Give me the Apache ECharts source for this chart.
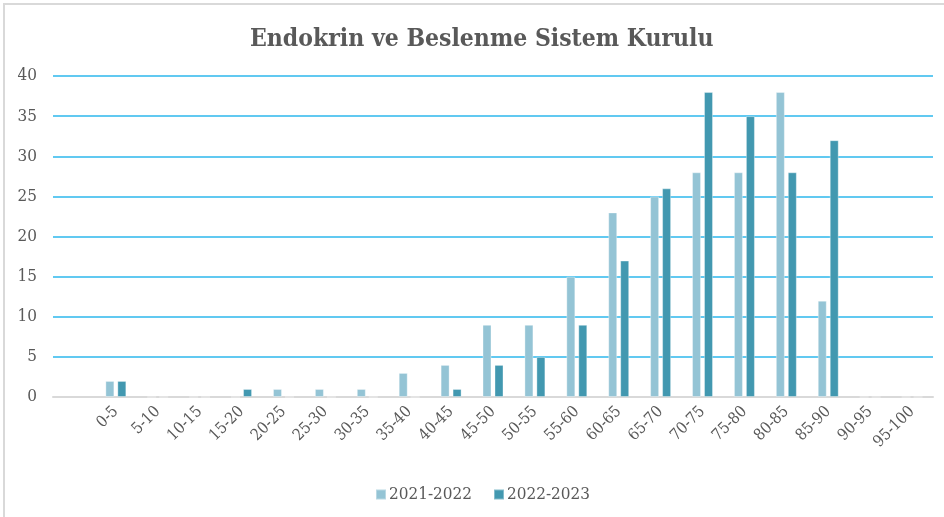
<!DOCTYPE html>
<html>
<head>
<meta charset="utf-8">
<script src="https://cdn.jsdelivr.net/npm/echarts@6/dist/echarts.min.js"></script>
<style>
  html, body { margin: 0; padding: 0; background: #fff; }
  #chart { width: 944px; height: 517px; }
</style>
</head>
<body>
<div id="chart"></div>
<script>
// Score bands (the leading blank slot leaves room before the first band)
const categories = ['', '0-5', '5-10', '10-15', '15-20', '20-25', '25-30', '30-35', '35-40', '40-45',
  '45-50', '50-55', '55-60', '60-65', '65-70', '70-75', '75-80', '80-85', '85-90', '90-95', '95-100'];
const seriesNames = ['2021-2022', '2022-2023'];
const values2021 = [null, 2, 0, 0, 0, 1, 1, 1, 3, 4, 9, 9, 15, 23, 25, 28, 28, 38, 12, 0, 0];
const values2022 = [null, 2, 0, 0, 1, 0, 0, 0, 0, 1, 4, 5, 9, 17, 26, 38, 35, 28, 32, 0, 0];
const yTicks = { min: 0, max: 40, interval: 5 };

const serif = '"DejaVu Serif Condensed", "Liberation Serif", serif';
const textGray = '#595959';

const chart = echarts.init(document.getElementById('chart'), null, { renderer: 'canvas' });
chart.setOption({
  animation: false,
  backgroundColor: '#fff',
  title: {
    text: 'Endokrin ve Beslenme Sistem Kurulu',
    left: 245,
    top: 22,
    textStyle: { fontFamily: serif, fontWeight: 'bold', fontSize: 24.5, color: textGray }
  },
  graphic: [{
    type: 'rect',
    shape: { x: 4, y: 4, width: 960, height: 540 },
    style: { fill: 'none', stroke: '#d9d9d9', lineWidth: 2 },
    silent: true
  }],
  legend: {
    data: seriesNames,
    left: 370,
    top: 481,
    itemWidth: 10,
    itemHeight: 10,
    itemGap: 21,
    icon: 'rect',
    textStyle: { fontFamily: serif, fontSize: 17, color: textGray, padding: [0, 0, 0, -2] }
  },
  grid: { left: 53, right: 11, top: 76, bottom: 120, containLabel: false },
  xAxis: {
    type: 'category',
    data: categories,
    axisLine: { lineStyle: { color: '#d9d9d9', width: 2 } },
    axisTick: { show: false },
    axisLabel: {
      rotate: 45,
      interval: 0,
      margin: 12,
      fontFamily: serif,
      fontSize: 16,
      color: textGray
    }
  },
  yAxis: {
    type: 'value',
    min: yTicks.min,
    max: yTicks.max,
    interval: yTicks.interval,
    axisLine: { show: false },
    axisTick: { show: false },
    axisLabel: { margin: 16, fontFamily: serif, fontSize: 17, color: textGray },
    splitLine: { lineStyle: { color: '#2db7ec', width: 1.5 } }
  },
  series: [
    {
      name: seriesNames[0],
      type: 'bar',
      data: values2021,
      barWidth: 9,
      barGap: '33%',
      itemStyle: { color: '#94c4d5', borderColor: 'rgba(255,255,255,0.35)', borderWidth: 1 }
    },
    {
      name: seriesNames[1],
      type: 'bar',
      data: values2022,
      barWidth: 9,
      itemStyle: { color: '#4298b0', borderColor: 'rgba(255,255,255,0.35)', borderWidth: 1 }
    }
  ]
});
</script>
</body>
</html>
